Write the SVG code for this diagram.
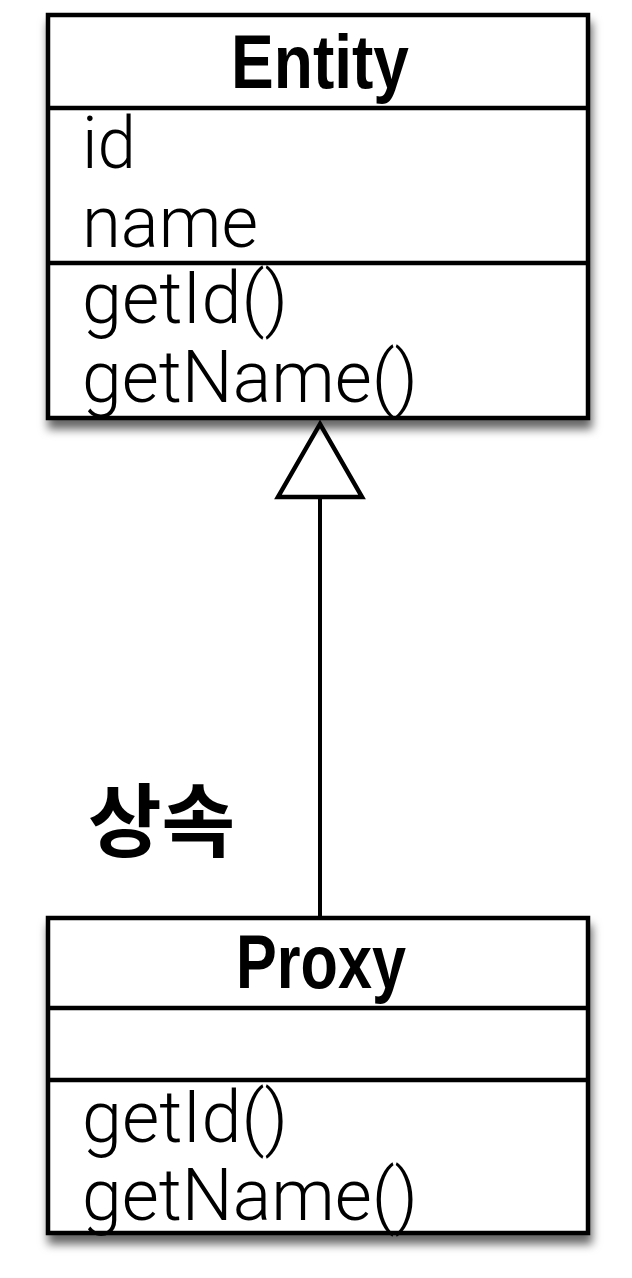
<svg xmlns="http://www.w3.org/2000/svg" width="632" height="1278" viewBox="0 0 632 1278">
<defs>
<filter id="sh" x="-10%" y="-10%" width="125%" height="130%">
<feDropShadow dx="2" dy="9" stdDeviation="5" flood-color="#000" flood-opacity="0.6"/>
</filter>
<style>
.box{fill:#fff;stroke:#000;stroke-width:4.5}
.div{stroke:#000;stroke-width:4.5}
.title{font-family:"Liberation Sans",Arial,sans-serif;font-weight:bold;font-size:76px;fill:#000}
.item{font-family:Roboto,"Liberation Sans",Arial,sans-serif;font-weight:300;font-size:72px;fill:#000}
.lbl{font-family:"Noto Sans CJK KR",sans-serif;font-weight:bold;font-size:80px;fill:#000}
.edge{stroke:#000;stroke-width:4;fill:none}
</style>
</defs>
<rect width="632" height="1278" fill="#fff"/>
<g id="connectors">
<line class="edge" x1="320" y1="498" x2="320" y2="918"/>
<polygon points="320,424 278,497 362,497" fill="#fff" stroke="#000" stroke-width="4.5" stroke-linejoin="miter"/>
</g>
<g id="entity">
<rect class="box" x="48" y="15" width="540" height="403" filter="url(#sh)"/>
<line class="div" x1="48" y1="108" x2="588" y2="108"/>
<line class="div" x1="48" y1="263" x2="588" y2="263"/>
<text class="title" x="320" y="88" text-anchor="middle" textLength="178" lengthAdjust="spacingAndGlyphs">Entity</text>
<text class="item" x="82" y="168" textLength="54" lengthAdjust="spacingAndGlyphs">id</text>
<text class="item" x="82" y="247" textLength="176" lengthAdjust="spacingAndGlyphs">name</text>
<text class="item" x="82" y="323" textLength="206" lengthAdjust="spacingAndGlyphs">getId()</text>
<text class="item" x="82" y="402" textLength="336" lengthAdjust="spacingAndGlyphs">getName()</text>
</g>
<g id="label">
<text class="lbl" x="88" y="850">상속</text>
</g>
<g id="proxy">
<rect class="box" x="48" y="918" width="540" height="315" filter="url(#sh)"/>
<line class="div" x1="48" y1="1008" x2="588" y2="1008"/>
<line class="div" x1="48" y1="1080" x2="588" y2="1080"/>
<text class="title" x="321" y="988" text-anchor="middle" textLength="170" lengthAdjust="spacingAndGlyphs">Proxy</text>
<text class="item" x="82" y="1142" textLength="206" lengthAdjust="spacingAndGlyphs">getId()</text>
<text class="item" x="82" y="1220" textLength="336" lengthAdjust="spacingAndGlyphs">getName()</text>
</g>
</svg>
